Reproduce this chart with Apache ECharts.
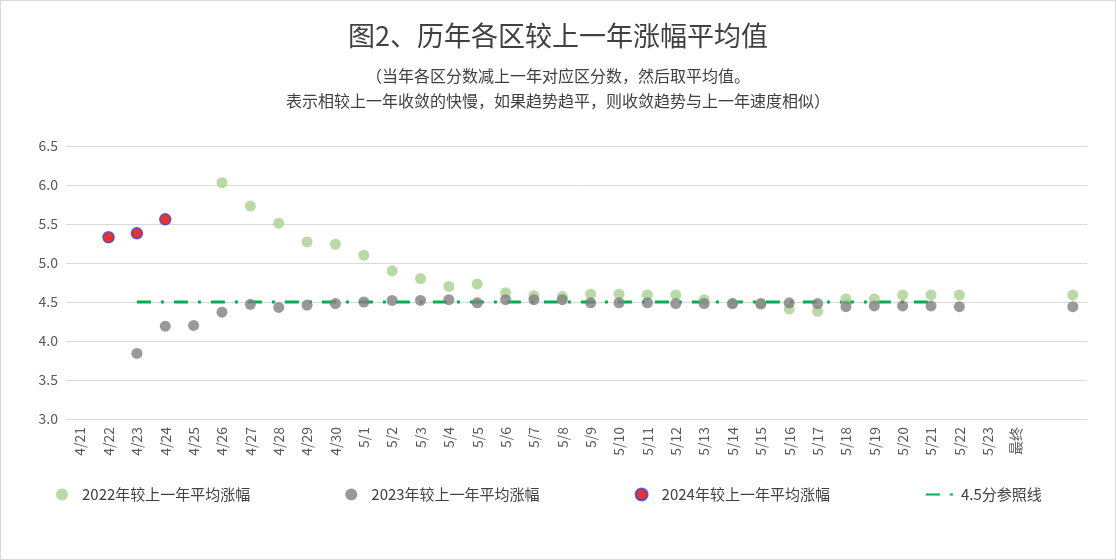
<!DOCTYPE html>
<html><head><meta charset="utf-8">
<script src="https://cdn.jsdelivr.net/npm/echarts@6/dist/echarts.min.js"></script>
<style>html,body{margin:0;background:#fff}#c{width:1116px;height:560px;box-sizing:border-box;border:1px solid #d9d9d9}</style>
</head><body><div id="c"></div>
<script>
const categories=['4/21','4/22','4/23','4/24','4/25','4/26','4/27','4/28','4/29','4/30','5/1','5/2','5/3','5/4','5/5','5/6','5/7','5/8','5/9','5/10','5/11','5/12','5/13','5/14','5/15','5/16','5/17','5/18','5/19','5/20','5/21','5/22','5/23','最终','',' '];
const s2022=[null,null,null,null,null,6.03,5.73,5.51,5.27,5.24,5.10,4.90,4.80,4.70,4.73,4.62,4.58,4.57,4.60,4.60,4.59,4.59,4.53,4.48,4.47,4.41,4.38,4.54,4.54,4.59,4.59,4.59,null,null,null,4.59];
const s2023=[null,null,3.84,4.19,4.20,4.37,4.47,4.43,4.46,4.48,4.50,4.52,4.52,4.53,4.49,4.53,4.53,4.53,4.49,4.49,4.49,4.48,4.48,4.48,4.48,4.49,4.48,4.44,4.45,4.45,4.45,4.44,null,null,null,4.44];
const s2024=[null,5.33,5.38,5.56];
const refLine=[null,null,4.5,4.5,4.5,4.5,4.5,4.5,4.5,4.5,4.5,4.5,4.5,4.5,4.5,4.5,4.5,4.5,4.5,4.5,4.5,4.5,4.5,4.5,4.5,4.5,4.5,4.5,4.5,4.5,4.5];
const yTicks={min:3.0,max:6.5,interval:0.5};
const names=['2022年较上一年平均涨幅','2023年较上一年平均涨幅','2024年较上一年平均涨幅','4.5分参照线'];
const chart=echarts.init(document.getElementById('c'));
const F='"Noto Sans CJK SC","Noto Sans",sans-serif';
chart.setOption({
  textStyle:{fontFamily:F},
  title:[{text:'图2、历年各区较上一年涨幅平均值',left:'center',top:16,textStyle:{fontSize:27,fontWeight:'normal',color:'#404040',fontFamily:F}},
    {text:'（当年各区分数减上一年对应区分数，然后取平均值。\n表示相较上一年收敛的快慢，如果趋势趋平，则收敛趋势与上一年速度相似）',left:'center',top:57,textStyle:{fontSize:16,fontWeight:'normal',color:'#404040',lineHeight:25,align:'center',fontFamily:F}}],
  grid:{left:65,right:28,top:145,bottom:140},
  legend:{bottom:52,left:50,itemGap:95,itemWidth:30,itemHeight:12,textStyle:{fontSize:15,color:'#404040'},
    data:[names[0],names[1],names[2],{name:names[3],itemStyle:{opacity:0}}]},
  xAxis:{type:'category',data:categories,boundaryGap:true,axisTick:{show:false},axisLine:{lineStyle:{color:'#d9d9d9'}},
    axisLabel:{rotate:90,interval:0,fontSize:14,color:'#595959'}},
  yAxis:{type:'value',...yTicks,axisLine:{show:false},axisTick:{show:false},splitLine:{lineStyle:{color:'#d9d9d9'}},
    axisLabel:{fontSize:14,color:'#595959',formatter:v=>v.toFixed(1)}},
  series:[
    {name:names[0],type:'scatter',data:s2022,symbolSize:11,itemStyle:{color:'#a9d18e'}},
    {name:names[1],type:'scatter',data:s2023,symbolSize:11,itemStyle:{color:'#7f7f7f'}},
    {name:names[2],type:'scatter',data:s2024,symbolSize:11,itemStyle:{color:'#e00000',borderColor:'#4040d0',borderWidth:1.5}},
    {name:names[3],type:'line',data:refLine,showSymbol:false,symbol:'none',lineStyle:{color:'#00b050',width:3,type:[14,10,3,10]},itemStyle:{color:'#00b050'},z:1}
  ]
});
</script></body></html>
